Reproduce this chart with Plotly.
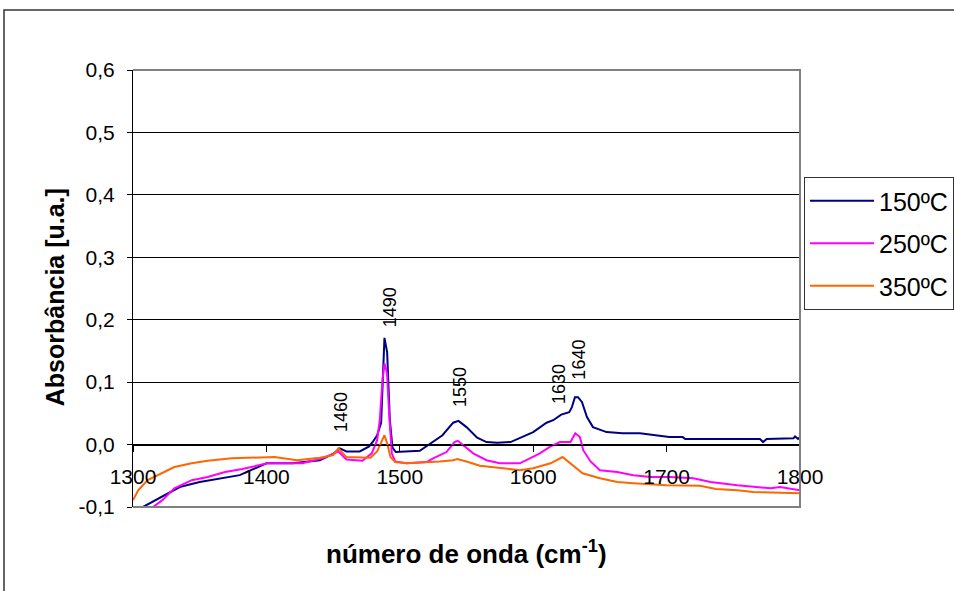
import plotly.graph_objects as go

# espectros IR
wn_150 = [1307.5, 1320, 1335, 1350, 1380, 1400, 1420, 1440, 1450, 1455, 1460, 1470,
          1477, 1480, 1483, 1486, 1488.5, 1490.5, 1492.5, 1494.5, 1497, 1515, 1525,
          1532, 1540, 1544, 1550, 1558, 1565, 1573, 1583, 1590, 1600, 1610, 1615,
          1621, 1627, 1629, 1631.3, 1633.6, 1636.6, 1640.3, 1644.8, 1655, 1667, 1680,
          1693, 1702, 1712, 1714, 1770, 1772.3, 1775, 1795, 1796.3, 1798.5, 1800]
abs_150 = [-0.1, -0.086, -0.068, -0.06, -0.049, -0.03, -0.03, -0.025, -0.015, -0.006,
           -0.011, -0.011, -0.003, 0.005, 0.015, 0.035, 0.171, 0.148, 0.04, -0.005,
           -0.012, -0.01, 0.004, 0.015, 0.035, 0.038, 0.028, 0.011, 0.004, 0.003,
           0.004, 0.011, 0.02, 0.035, 0.039, 0.048, 0.052, 0.06, 0.076, 0.076, 0.068,
           0.044, 0.028, 0.02, 0.018, 0.018, 0.014, 0.012, 0.012, 0.009, 0.009, 0.004,
           0.009, 0.01, 0.013, 0.009, 0.012]

wn_250 = [1315, 1322, 1331, 1344, 1356, 1369, 1382, 1394, 1401, 1427, 1442, 1450, 1454,
          1460, 1472, 1479, 1483, 1485, 1487, 1488.5, 1490.4, 1492, 1494, 1496.5, 1505,
          1520, 1525, 1535, 1541, 1543.5, 1547.5, 1555, 1565, 1575, 1590, 1595, 1605,
          1613, 1620, 1628, 1631.5, 1635, 1637.5, 1643, 1650, 1663, 1675, 1688, 1703,
          1720, 1733, 1753, 1778, 1785, 1790, 1800]
abs_250 = [-0.1, -0.089, -0.07, -0.057, -0.052, -0.044, -0.039, -0.033, -0.03, -0.03,
           -0.022, -0.015, -0.011, -0.024, -0.026, -0.014, 0.007, 0.039, 0.103, 0.13,
           0.115, 0.05, -0.014, -0.027, -0.03, -0.028, -0.022, -0.012, 0.004, 0.006,
           -0.001, -0.014, -0.025, -0.03, -0.03, -0.025, -0.014, -0.003, 0.004, 0.004,
           0.018, 0.012, -0.009, -0.027, -0.041, -0.044, -0.049, -0.052, -0.052,
           -0.054, -0.06, -0.065, -0.07, -0.068, -0.07, -0.073]

wn_350 = [1300, 1304, 1311, 1319, 1331, 1344, 1356, 1374, 1394, 1406, 1423, 1440, 1450,
          1454, 1460, 1472, 1478, 1483, 1487, 1488.5, 1490.5, 1493, 1496.5, 1505, 1530,
          1540, 1543, 1550, 1560, 1575, 1590, 1600, 1613, 1622, 1627.5, 1637, 1650,
          1663, 1675, 1700, 1725, 1737, 1753, 1765, 1800]
abs_350 = [-0.089, -0.073, -0.057, -0.049, -0.036, -0.03, -0.026, -0.022, -0.02, -0.02,
           -0.025, -0.021, -0.017, -0.006, -0.02, -0.021, -0.021, -0.011, 0.007, 0.015,
           0.002, -0.02, -0.028, -0.03, -0.027, -0.025, -0.023, -0.027, -0.034, -0.038,
           -0.041, -0.038, -0.03, -0.02, -0.03, -0.046, -0.054, -0.06, -0.062, -0.065,
           -0.066, -0.071, -0.073, -0.076, -0.078]

series_names = ["150ºC", "250ºC", "350ºC"]
series_colors = ["#000080", "#FF00FF", "#FF6600"]

# bandas marcadas no grafico
peak_labels = ["1460", "1490", "1550", "1630", "1640"]
peak_x = [1455.9, 1492.7, 1545.1, 1619.3, 1634.3]
peak_y = [0.052, 0.22, 0.092, 0.097, 0.136]

y_ticks = [-0.1, 0.0, 0.1, 0.2, 0.3, 0.4, 0.5, 0.6]
y_ticktext = ["-0,1", "0,0", "0,1", "0,2", "0,3", "0,4", "0,5", "0,6"]
x_ticks = [1300, 1400, 1500, 1600, 1700, 1800]

FONT = "Arial, Liberation Sans, sans-serif"

fig = go.Figure()
data = [(wn_150, abs_150), (wn_250, abs_250), (wn_350, abs_350)]
for i, (xs, ys) in enumerate(data):
    fig.add_trace(go.Scatter(x=xs, y=ys, mode="lines", name=series_names[i],
                             legendgroup=series_names[i],
                             line=dict(color=series_colors[i], width=2)))

for t, px, py in zip(peak_labels, peak_x, peak_y):
    fig.add_annotation(x=px, y=py, xref="x", yref="y", text=t, textangle=-90,
                       showarrow=False, xanchor="center", yanchor="middle",
                       font=dict(size=18, color="black", family=FONT))

# titulos dos eixos
fig.add_annotation(x=0.5, y=-0.105, xref="paper", yref="paper",
                   text="<b>número de onda (cm<sup>-1</sup>)</b>", showarrow=False,
                   xanchor="center", yanchor="middle",
                   font=dict(size=26, color="black", family=FONT))
fig.add_annotation(x=-0.117, y=0.48, xref="paper", yref="paper",
                   text="<b>Absorbância [u.a.]</b>", textangle=-90, showarrow=False,
                   xanchor="center", yanchor="middle",
                   font=dict(size=25, color="black", family=FONT))

# borda da area do grafico (cinza) e moldura externa
fig.add_shape(type="path", xref="paper", yref="paper",
              path="M 0,1 L 1,1 L 1,0 L 0,0", line=dict(color="#808080", width=2),
              layer="above")
fig.add_shape(type="rect", xref="paper", yref="paper",
              x0=-0.1934, y0=-1, x1=2, y1=1.1373, line=dict(color="#333333", width=1.5))

fig.update_layout(
    width=954, height=591,
    margin=dict(l=133, r=154, t=70, b=84, autoexpand=False),
    paper_bgcolor="white", plot_bgcolor="white",
    font=dict(family=FONT, size=21, color="black"),
    showlegend=True,
    legend=dict(x=1.006, y=0.755, xanchor="left", yanchor="top",
                bordercolor="#333333", borderwidth=1, bgcolor="white",
                font=dict(size=25, family=FONT), traceorder="grouped",
                tracegroupgap=7, itemwidth=64),
    xaxis=dict(range=[1300, 1800], tickvals=x_ticks, showgrid=False, zeroline=False,
               showline=True, linecolor="black", linewidth=1,
               ticks="outside", ticklen=6, tickcolor="black",
               anchor="free", position=1 / 7, ticklabelstandoff=7,
               tickfont=dict(size=21)),
    yaxis=dict(range=[-0.1, 0.6], tickvals=y_ticks, ticktext=y_ticktext,
               showgrid=True, gridcolor="black", gridwidth=1, zeroline=False,
               showline=True, linecolor="black", linewidth=1,
               ticks="outside", ticklen=5, tickcolor="black",
               ticklabelstandoff=8, tickfont=dict(size=21)),
)

# tira a margem de 8px do body para a figura ocupar a janela toda
fig.write_html("out.html", config={"displayModeBar": False},
               post_script="document.body.style.margin='0px';")
